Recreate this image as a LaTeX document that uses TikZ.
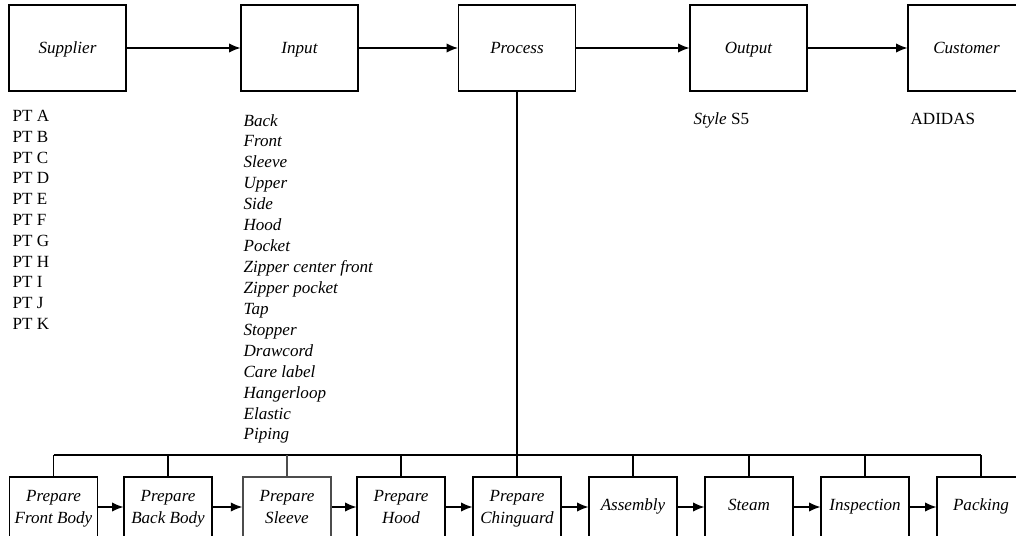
\documentclass[tikz,border=0pt]{standalone}
\usepackage{fontspec}
\setmainfont{Liberation Serif}
\usetikzlibrary{arrows.meta}
\begin{document}
\begin{tikzpicture}[x=0.75pt,y=-0.75pt,
  font=\fontsize{12.8}{16.5}\selectfont,
  line width=0.9pt,
  topbox/.style={draw, minimum width=87.75pt, minimum height=64.5pt, inner sep=0pt, text height=9pt, text depth=0.5pt, font=\fontsize{12.8}{16.5}\selectfont\itshape},
  botbox/.style={draw, minimum width=66pt, minimum height=47.25pt, inner sep=0pt, align=center, font=\fontsize{12.8}{16.5}\selectfont\itshape},
  onel/.style={text height=8pt, text depth=4.6pt},
  arr/.style={-{Latex[length=8.5pt,width=7pt]}},
  lst/.style={anchor=base west, inner sep=0pt}
]
\useasboundingbox (0,0) rectangle (1016,535);
\clip (0,0) rectangle (1016,535);

% top row
\node[topbox] (sup) at (67.5,48) {Supplier};
\node[topbox] (inp) at (299.5,48) {Input};
\node[topbox] (proc) at (517,48) {Process};
\node[topbox] (out) at (748.5,48) {Output};
\node[topbox] (cus) at (966.5,48) {Customer};
\draw[arr] (sup) -- (inp);
\draw[arr] (inp) -- (proc);
\draw[arr] (proc) -- (out);
\draw[arr] (out) -- (cus);

% lists
\foreach \t [count=\i from 0] in {PT A,PT B,PT C,PT D,PT E,PT F,PT G,PT H,PT I,PT J,PT K}
  \node[lst] (pt\i) at (12,121.5+20.8*\i) {\t};
\foreach \t [count=\i from 0] in {Back,Front,Sleeve,Upper,Side,Hood,Pocket,Zipper center front,Zipper pocket,Tap,Stopper,Drawcord,Care label,Hangerloop,Elastic,Piping}
  \node[lst, font=\fontsize{12.8}{16.5}\selectfont\itshape] (in\i) at (243,126+20.93*\i) {\t};
\node[lst] (style) at (693,124) {\textit{Style} S5};
\node[lst] (adidas) at (910,124) {ADIDAS};

% bottom row
\node[botbox] (b1) at (53.5,508.5) {Prepare\\Front Body};
\node[botbox] (b2) at (168,508.5) {Prepare\\Back Body};
\node[botbox, draw=black!70, line width=1.2pt] (b3) at (287,508.5) {Prepare\\Sleeve\vphantom{y}};
\node[botbox] (b4) at (401,508.5) {Prepare\\Hood\vphantom{y}};
\node[botbox] (b5) at (517,508.5) {Prepare\\Chinguard};
\node[botbox, onel] (b6) at (633,508.5) {Assembly};
\node[botbox, onel] (b7) at (749,508.5) {Steam};
\node[botbox, onel] (b8) at (865,508.5) {Inspection};
\node[botbox, onel] (b9) at (981,508.5) {Packing};
\foreach \a/\b in {b1/b2,b2/b3,b3/b4,b4/b5,b5/b6,b6/b7,b7/b8,b8/b9}
  \draw[arr] (\a.east |- 0,507) -- (\b.west |- 0,507);

% bus
\coordinate (busy) at (0,455);
\draw (proc.south) -- (proc.south |- busy);
\draw (b1.north |- busy) -- (b9.north |- busy);
\foreach \b in {b1,b2,b4,b5,b6,b7,b8,b9}
  \draw (\b.north) -- (\b.north |- busy);
\draw[draw=black!70, line width=1.2pt] (b3.north) -- (b3.north |- busy);
\end{tikzpicture}
\end{document}
